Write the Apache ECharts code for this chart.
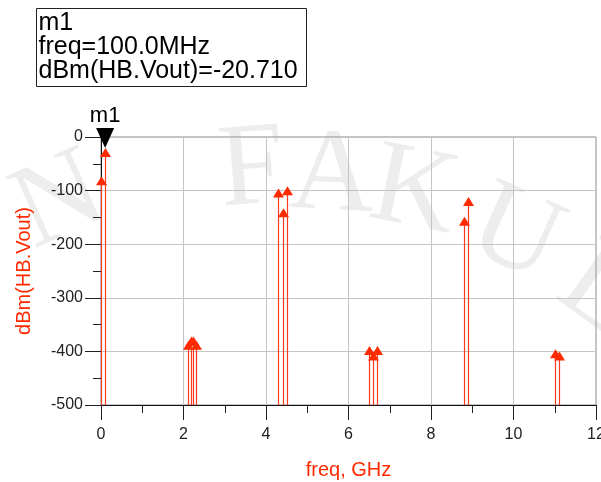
<!DOCTYPE html>
<html>
<head>
<meta charset="utf-8">
<script src="https://cdn.jsdelivr.net/npm/echarts@6/dist/echarts.min.js"></script>
<style>
  html, body { margin: 0; padding: 0; background: #ffffff; }
  #chart { width: 601px; height: 482px; }
</style>
</head>
<body>
<div id="chart"></div>
<script>
// Harmonic balance output spectrum: frequency (GHz) and level (dBm)
const freqGHz = [0, 0.1, 2.1, 2.17, 2.23, 2.3, 4.3, 4.4, 4.5, 6.5, 6.6, 6.7, 8.8, 8.9, 11.0, 11.1];
const levelDbm = [-73, -20.71, -380, -372, -372, -380, -96, -133, -92, -390, -400, -390, -149, -112, -396, -400];

// Marker m1
const markerName = 'm1';
const markerFreqGHz = 0.1;
const markerLevel = -20.71;

// Axis ranges and ticks
const xTicks = [0, 2, 4, 6, 8, 10, 12];
const yTicks = [-500, -400, -300, -200, -100, 0];

const FONT = "'Liberation Sans', Arial, sans-serif";
const RED = '#ff2a00';
const floorLevel = yTicks[0];

const chart = echarts.init(document.getElementById('chart'), null, { renderer: 'canvas' });

const readout = [
  markerName,
  'freq=' + (markerFreqGHz * 1000).toFixed(1) + 'MHz',
  'dBm(HB.Vout)=' + markerLevel.toFixed(3)
].join('\n');

// faint page watermark letters set on an arc behind the plot
const stamp = [
  { ch: 'N', x: 60, y: 203, r: 0.42 },
  { ch: 'F', x: 252, y: 172, r: 0.08 },
  { ch: 'A', x: 332, y: 178, r: -0.05 },
  { ch: 'K', x: 414, y: 194, r: -0.2 },
  { ch: 'U', x: 515, y: 236, r: -0.42 },
  { ch: 'L', x: 600, y: 292, r: -0.62 }
].map(s => ({
  type: 'text', x: s.x, y: s.y, rotation: s.r, z: -100, silent: true,
  style: { text: s.ch, fill: '#ededed', fontSize: 118, fontFamily: "'Liberation Serif', serif",
           align: 'center', verticalAlign: 'middle' }
}));

chart.setOption({
  animation: false,
  backgroundColor: '#ffffff',
  grid: {
    left: 101, right: 5, top: 137, bottom: 77,
    containLabel: false, outerBoundsMode: 'none',
    show: true, borderColor: '#8a8a8a', borderWidth: 1
  },
  xAxis: {
    type: 'value',
    min: xTicks[0], max: xTicks[xTicks.length - 1], interval: 2,
    name: 'freq, GHz', nameLocation: 'middle', nameGap: 55,
    nameTextStyle: { color: RED, fontSize: 20, fontFamily: FONT },
    axisLine: { show: true, onZero: false, lineStyle: { color: '#111', width: 1 } },
    axisTick: { show: true, length: 15, lineStyle: { color: '#222' } },
    minorTick: { show: true, splitNumber: 2, length: 8, lineStyle: { color: '#222' } },
    splitLine: { show: true, lineStyle: { color: '#c4c4c4', width: 1 } },
    axisLabel: { color: '#222', fontSize: 16, fontFamily: FONT, margin: 22, hideOverlap: false }
  },
  yAxis: {
    type: 'value',
    min: yTicks[0], max: yTicks[yTicks.length - 1], interval: 100,
    name: 'dBm(HB.Vout)', nameLocation: 'middle', nameGap: 67, nameRotate: 90,
    nameTextStyle: { color: RED, fontSize: 20, fontFamily: FONT },
    axisLine: { show: true, lineStyle: { color: '#111', width: 1 } },
    axisTick: { show: true, length: 16, lineStyle: { color: '#222' } },
    minorTick: { show: true, splitNumber: 2, length: 8, lineStyle: { color: '#222' } },
    splitLine: { show: true, lineStyle: { color: '#c4c4c4', width: 1 } },
    axisLabel: { color: '#222', fontSize: 16, fontFamily: FONT, margin: 18 }
  },
  graphic: stamp.concat([
    {
      type: 'group', left: 36, top: 8, z: 100,
      children: [
        { type: 'rect', shape: { x: 0, y: 0, width: 270, height: 78 },
          style: { fill: '#fff', stroke: '#222', lineWidth: 1 } },
        { type: 'text', x: 2, y: 3,
          style: { text: readout, fill: '#000', fontSize: 25, fontFamily: FONT, lineHeight: 24 } }
      ]
    }
  ]),
  series: [
    {
      // spectral lines: stem from the floor with a triangular head at the level
      type: 'custom',
      clip: false,
      data: freqGHz.map((f, i) => [f, levelDbm[i]]),
      renderItem: function (params, api) {
        const base = api.coord([api.value(0), floorLevel]);
        const top = api.coord([api.value(0), api.value(1)]);
        const x = Math.round(top[0]) + 0.5;
        return {
          type: 'group',
          children: [
            { type: 'line', shape: { x1: x, y1: base[1], x2: x, y2: top[1] + 6 },
              style: { stroke: '#ff3a1a', lineWidth: 1.2 } },
            { type: 'polygon',
              shape: { points: [[x, top[1]], [x - 5.5, top[1] + 9], [x + 5.5, top[1] + 9]] },
              style: { fill: RED } }
          ]
        };
      }
    },
    {
      // marker m1 pointing at its data point
      type: 'custom',
      clip: false,
      z: 5,
      data: [[markerFreqGHz, markerLevel]],
      renderItem: function (params, api) {
        const p = api.coord([api.value(0), api.value(1)]);
        return {
          type: 'group',
          children: [
            { type: 'polygon',
              shape: { points: [[p[0], p[1]], [p[0] - 9, p[1] - 20], [p[0] + 9, p[1] - 20]] },
              style: { fill: '#000' } },
            { type: 'text', x: p[0], y: p[1] - 21,
              style: { text: markerName, fill: '#000', fontSize: 22, fontFamily: FONT,
                       align: 'center', verticalAlign: 'bottom' } }
          ]
        };
      }
    }
  ]
});
</script>
</body>
</html>
